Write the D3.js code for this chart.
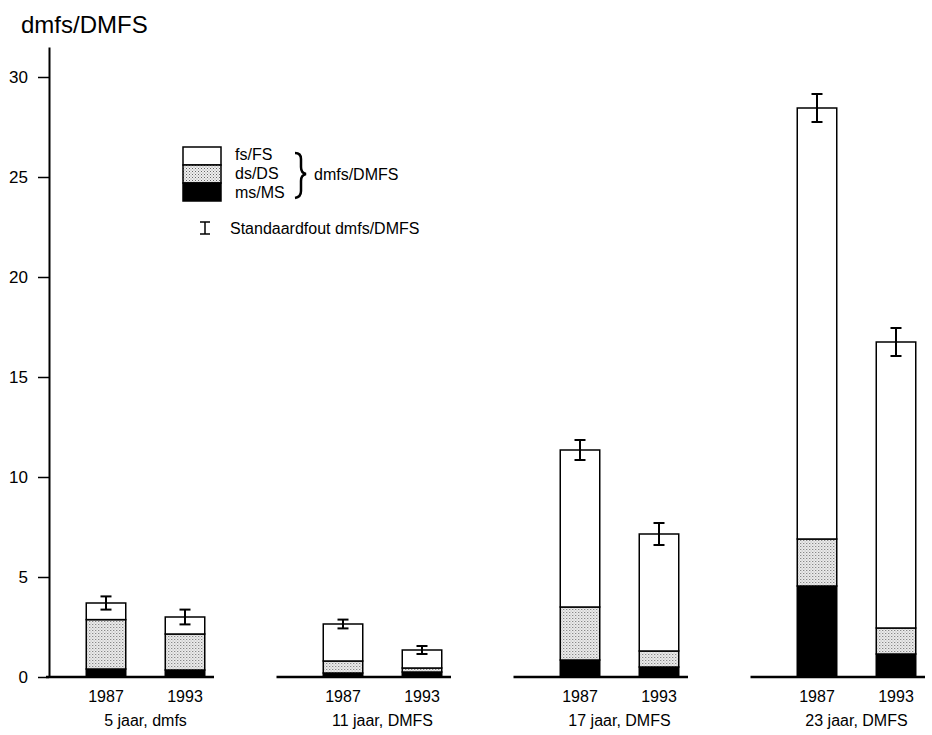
<!DOCTYPE html>
<html>
<head>
<meta charset="utf-8">
<script src="https://cdn.jsdelivr.net/npm/d3@7"></script>
<style>
  body { margin: 0; background: #fff; }
  svg { font-family: 'Liberation Sans', Arial, sans-serif; }
</style>
</head>
<body>
<svg id="chart" width="932" height="735"></svg>
<script>
// data
const groups = ['5 jaar, dmfs', '11 jaar, DMFS', '17 jaar, DMFS', '23 jaar, DMFS'];
const years = ['1987', '1993'];
// per group: [1987, 1993]
const msValues = [[0.4, 0.35], [0.2, 0.25], [0.85, 0.5], [4.55, 1.15]];
const dsValues = [[2.47, 1.8], [0.6, 0.2], [2.65, 0.8], [2.35, 1.3]];
const fsValues = [[0.83, 0.85], [1.85, 0.9], [7.85, 5.85], [21.55, 14.3]];
const seValues = [[0.33, 0.37], [0.22, 0.2], [0.5, 0.55], [0.7, 0.7]];
const yTicks = [0, 5, 10, 15, 20, 25, 30];
const legendLabels = ['fs/FS', 'ds/DS', 'ms/MS'];

const svg = d3.select('#chart');

const y = d3.scaleLinear().domain([0, 31.5]).range([677, 47]);
const x0 = d3.scaleBand().domain(groups).range([27, 975]);
const x1 = d3.scaleBand().domain(years).range([0, x0.bandwidth() - 79]).paddingInner(0.5).paddingOuter(0.25);
const axisX = 49;

// stipple fill for ds/DS
const pat = svg.append('defs').append('pattern')
  .attr('id', 'dots')
  .attr('width', 3)
  .attr('height', 3)
  .attr('patternUnits', 'userSpaceOnUse');
pat.append('rect').attr('width', 3).attr('height', 3).attr('fill', '#eeeeee');
pat.append('rect').attr('width', 1).attr('height', 1).attr('fill', '#666');
pat.append('rect').attr('x', 1.5).attr('y', 1.5).attr('width', 1).attr('height', 1).attr('fill', '#999');

const fills = { ms: '#000', ds: 'url(#dots)', fs: '#fff' };

// title
svg.append('text')
  .attr('x', 21)
  .attr('y', 33)
  .attr('font-size', 24)
  .text('dmfs/DMFS');

// y axis
const yAxis = d3.axisLeft(y)
  .tickValues(yTicks)
  .tickSize(11)
  .tickSizeOuter(0)
  .tickPadding(10);

const gy = svg.append('g')
  .attr('transform', `translate(${axisX},0)`)
  .call(yAxis);
gy.select('.domain').attr('stroke-width', 2);
gy.selectAll('.tick line').attr('stroke-width', 1.5);
gy.selectAll('.tick text').attr('font-size', 17).attr('fill', '#000').attr('font-family', 'Liberation Sans, Arial, sans-serif');

// groups
const rows = [];
groups.forEach((g, gi) => {
  years.forEach((yr, yi) => {
    const ms = msValues[gi][yi];
    const ds = dsValues[gi][yi];
    const fs = fsValues[gi][yi];
    rows.push({
      group: g, year: yr,
      segs: [
        { key: 'ms', y0: 0, y1: ms },
        { key: 'ds', y0: ms, y1: ms + ds },
        { key: 'fs', y0: ms + ds, y1: ms + ds + fs },
      ],
      total: ms + ds + fs,
      se: seValues[gi][yi],
    });
  });
});

const gGroup = svg.selectAll('.group')
  .data(groups)
  .enter()
  .append('g')
  .attr('class', 'group')
  .attr('transform', (d) => `translate(${x0(d) + 39.5},0)`);

// baseline per group
gGroup.append('line')
  .attr('x1', (d, i) => (i === 0 ? axisX - 3 - x0(d) - 39.5 : -27))
  .attr('x2', x0.bandwidth() - 39.5 - 50)
  .attr('y1', y(0))
  .attr('y2', y(0))
  .attr('stroke', '#000')
  .attr('stroke-width', 2.5);

gGroup.selectAll('.yr')
  .data(years)
  .enter()
  .append('text')
  .attr('class', 'yr')
  .attr('x', (d) => x1(d) + x1.bandwidth() / 2)
  .attr('y', 702)
  .attr('text-anchor', 'middle')
  .attr('font-size', 16)
  .text((d) => d);

gGroup.append('text')
  .attr('x', (x0.bandwidth() - 79) / 2)
  .attr('y', 726)
  .attr('text-anchor', 'middle')
  .attr('font-size', 16)
  .text((d) => d);

const bar = svg.selectAll('.bar')
  .data(rows)
  .enter()
  .append('g')
  .attr('class', 'bar')
  .attr('transform', (d) => `translate(${x0(d.group) + 39.5 + x1(d.year)},0)`);

bar.selectAll('rect')
  .data((d) => d.segs)
  .enter()
  .append('rect')
  .attr('x', 0)
  .attr('width', x1.bandwidth())
  .attr('y', (d) => y(d.y1))
  .attr('height', (d) => y(d.y0) - y(d.y1))
  .attr('fill', (d) => fills[d.key])
  .attr('stroke', '#000')
  .attr('stroke-width', 1.5);

// error bars
const cx = x1.bandwidth() / 2;
bar.append('line')
  .attr('x1', cx).attr('x2', cx)
  .attr('y1', (d) => y(d.total + d.se))
  .attr('y2', (d) => y(d.total - d.se))
  .attr('stroke', '#000').attr('stroke-width', 2);
bar.append('line')
  .attr('x1', cx - 5.5).attr('x2', cx + 5.5)
  .attr('y1', (d) => y(d.total + d.se))
  .attr('y2', (d) => y(d.total + d.se))
  .attr('stroke', '#000').attr('stroke-width', 2);
bar.append('line')
  .attr('x1', cx - 5.5).attr('x2', cx + 5.5)
  .attr('y1', (d) => y(d.total - d.se))
  .attr('y2', (d) => y(d.total - d.se))
  .attr('stroke', '#000').attr('stroke-width', 2);

// legend
const legend = svg.append('g').attr('transform', 'translate(183,147)');
const legendKeys = ['fs', 'ds', 'ms'];
legend.selectAll('rect')
  .data(legendKeys)
  .enter()
  .append('rect')
  .attr('x', 0)
  .attr('y', (d, i) => i * 18)
  .attr('width', 38)
  .attr('height', 18)
  .attr('fill', (d) => fills[d])
  .attr('stroke', '#000')
  .attr('stroke-width', 1.5);
legend.selectAll('.lbl')
  .data(legendLabels)
  .enter()
  .append('text')
  .attr('class', 'lbl')
  .attr('x', 52)
  .attr('y', (d, i) => 13 + i * 19)
  .attr('font-size', 16)
  .text((d) => d);

// curly brace
legend.append('path')
  .attr('d', 'M112,6 Q118,6 118,12 L118,20 Q118,26 123,27 Q118,28 118,34 L118,44 Q118,50 112,51')
  .attr('fill', 'none')
  .attr('stroke', '#000')
  .attr('stroke-width', 2.5);
legend.append('text')
  .attr('x', 131)
  .attr('y', 33)
  .attr('font-size', 16)
  .text('dmfs/DMFS');

// standard error symbol
const se = svg.append('g').attr('transform', 'translate(205,0)');
se.append('line').attr('x1', 0).attr('x2', 0).attr('y1', 222).attr('y2', 234).attr('stroke', '#000').attr('stroke-width', 1.5);
se.append('line').attr('x1', -5).attr('x2', 5).attr('y1', 222).attr('y2', 222).attr('stroke', '#000').attr('stroke-width', 1.5);
se.append('line').attr('x1', -5).attr('x2', 5).attr('y1', 234).attr('y2', 234).attr('stroke', '#000').attr('stroke-width', 1.5);
svg.append('text')
  .attr('x', 230)
  .attr('y', 234)
  .attr('font-size', 16)
  .text('Standaardfout dmfs/DMFS');
</script>
</body>
</html>
